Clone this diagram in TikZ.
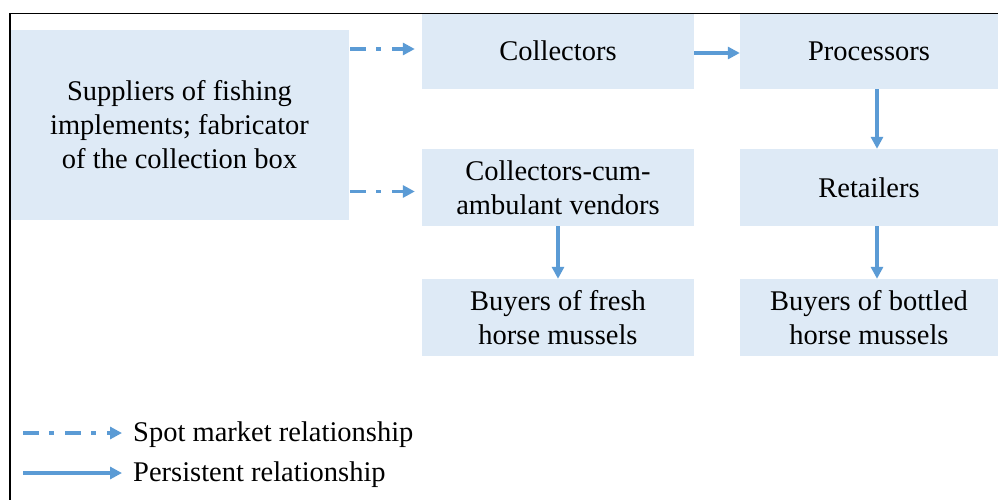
\documentclass[tikz,border=0pt]{standalone}
\usepackage{fontspec}
\setmainfont{Liberation Serif}
\usetikzlibrary{arrows.meta}
\definecolor{boxfill}{RGB}{222,234,246}
\definecolor{arrowblue}{RGB}{91,155,213}
\begin{document}
\begin{tikzpicture}[x=1pt,y=-1pt,
  box/.style={fill=boxfill,draw=none,inner sep=0pt,align=center,
    font=\fontsize{28.5}{34}\selectfont},
  persist/.style={draw=arrowblue,line width=3.2pt,
    -{Triangle[length=12pt,width=12pt]}},
  spot/.style={draw=arrowblue,line width=3.2pt,
    dash pattern=on 16pt off 10pt on 5pt off 11pt,
    -{Triangle[length=12pt,width=12pt]}},
  legtext/.style={anchor=west,inner sep=0pt,font=\fontsize{28.5}{34}\selectfont}]
\useasboundingbox (0,0) rectangle (998,500);
\fill[white] (0,0) rectangle (998,500);
% boxes
\node[box,minimum width=339pt,minimum height=190pt] (sup) at (179.5,125)
  {Suppliers of fishing\\implements; fabricator\\of the collection box};
\node[box,minimum width=272pt,minimum height=76pt] (col) at (558,51) {\raisebox{-2pt}{Collectors}};
\node[box,minimum width=258pt,minimum height=76pt] (pro) at (869,51) {Processors};
\node[box,minimum width=272pt,minimum height=77pt] (cav) at (558,187.5)
  {Collectors-cum-\\ambulant vendors};
\node[box,minimum width=258pt,minimum height=77pt] (ret) at (869,187.5) {Retailers};
\node[box,minimum width=272pt,minimum height=77pt] (bfr) at (558,317.5)
  {Buyers of fresh\\horse mussels};
\node[box,minimum width=258pt,minimum height=77pt] (bbo) at (869,317.5)
  {Buyers of bottled\\horse mussels};
% frame (top and left edges)
\draw[line width=1.2pt] (10,500) -- (10,13.5) -- (998,13.5);
% connectors
\draw[spot,shorten <=1pt,shorten >=7pt] ([yshift=2pt]sup.east |- col.west) -- ([yshift=2pt]col.west);
\draw[spot,shorten <=1pt,shorten >=7pt] ([yshift=-4pt]sup.east |- cav.west) -- ([yshift=-4pt]cav.west);
\draw[persist] ([yshift=-2pt]col.east) -- ([yshift=-2pt]pro.west);
\draw[persist] ([xshift=8pt]pro.south) -- ([xshift=8pt]ret.north);
\draw[persist] (cav.south) -- (bfr.north);
\draw[persist] ([xshift=8pt]ret.south) -- ([xshift=8pt]bbo.north);
% legend
\coordinate (l1a) at (23,433);
\coordinate (l1b) at (122,433);
\coordinate (l2a) at (23,473);
\coordinate (l2b) at (122,473);
\draw[spot] (l1a) -- (l1b);
\draw[persist] (l2a) -- (l2b);
\node[legtext] (t1) at (133,435) {Spot market relationship};
\node[legtext] (t2) at (133,475) {Persistent relationship};
\end{tikzpicture}
\end{document}
